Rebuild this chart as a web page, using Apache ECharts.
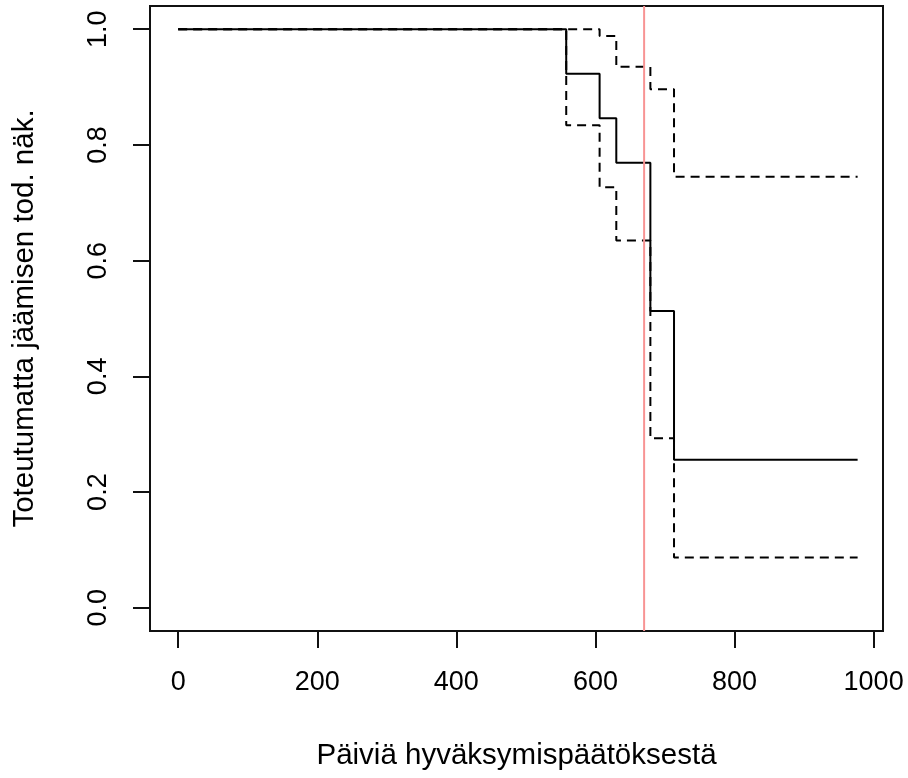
<!DOCTYPE html>
<html><head><meta charset="utf-8">
<script src="https://cdn.jsdelivr.net/npm/echarts@6/dist/echarts.min.js"></script>
<style>html,body{margin:0;padding:0;background:#fff}#c{width:908px;height:778px}</style>
</head><body><div id="c"></div>
<script>
// Kaplan-Meier estimate and confidence bounds (step values start at each time)
const times    = [0, 558, 606, 630, 679, 713, 977];
const survival = [1, 0.923, 0.846, 0.769, 0.513, 0.256, 0.256];
const upperCI  = [1, 1, 0.988, 0.935, 0.896, 0.745, 0.745];
const lowerCI  = [1, 0.834, 0.727, 0.635, 0.293, 0.087, 0.087];
const refLineX = 670;
const xTicks = [0, 200, 400, 600, 800, 1000];
const yTicks = [0, 0.2, 0.4, 0.6, 0.8, 1.0];
const xTitle = 'Päiviä hyväksymispäätöksestä';
const yTitle = 'Toteutumatta jäämisen tod. näk.';

const FONT = "'Liberation Sans', Arial, sans-serif";
const FS = 27;
const FS_TITLE = 29.5;
const pairs = (xs, ys) => xs.map((x, i) => [x, ys[i]]);

const chart = echarts.init(document.getElementById('c'), null, {renderer: 'canvas'});
const axisCommon = {
  type: 'value',
  axisLine: {show: false, onZero: false},
  splitLine: {show: false},
  nameLocation: 'middle',
  nameGap: 110,
  nameTextStyle: {fontFamily: FONT, fontSize: FS_TITLE, color: '#000'}
};
chart.setOption({
  animation: false,
  backgroundColor: '#fff',
  grid: {left: 150, top: 6, right: 25, bottom: 147, show: true, borderColor: '#111', borderWidth: 2, backgroundColor: 'transparent'},
  xAxis: Object.assign({}, axisCommon, {
    min: -40.5, max: 1013.5,
    name: xTitle,
    axisTick: {show: true, inside: false, customValues: xTicks, length: 17, lineStyle: {color: '#111', width: 2}},
    axisLabel: {customValues: xTicks, margin: 38, fontFamily: FONT, fontSize: FS, color: '#000',
      formatter: v => String(v)}
  }),
  yAxis: Object.assign({}, axisCommon, {
    min: -0.04, max: 1.04,
    name: yTitle,
    axisTick: {show: true, inside: false, customValues: yTicks, length: 17, lineStyle: {color: '#111', width: 2}},
    axisLabel: {customValues: yTicks, rotate: 90, margin: 38, fontFamily: FONT, fontSize: FS, color: '#000',
      formatter: v => Number(v).toFixed(1)}
  }),
  series: [
    {type: 'line', step: 'end', data: pairs(times, upperCI), symbol: 'none', silent: true,
      lineStyle: {color: '#000', width: 2, type: [9, 6]}},
    {type: 'line', step: 'end', data: pairs(times, lowerCI), symbol: 'none', silent: true,
      lineStyle: {color: '#000', width: 2, type: [9, 6]}},
    {type: 'line', step: 'end', data: pairs(times, survival), symbol: 'none', silent: true,
      lineStyle: {color: '#000', width: 2}},
    {type: 'line', data: [[refLineX, -0.04], [refLineX, 1.04]], symbol: 'none', silent: true,
      lineStyle: {color: '#f89494', width: 2}}
  ]
});
</script></body></html>
